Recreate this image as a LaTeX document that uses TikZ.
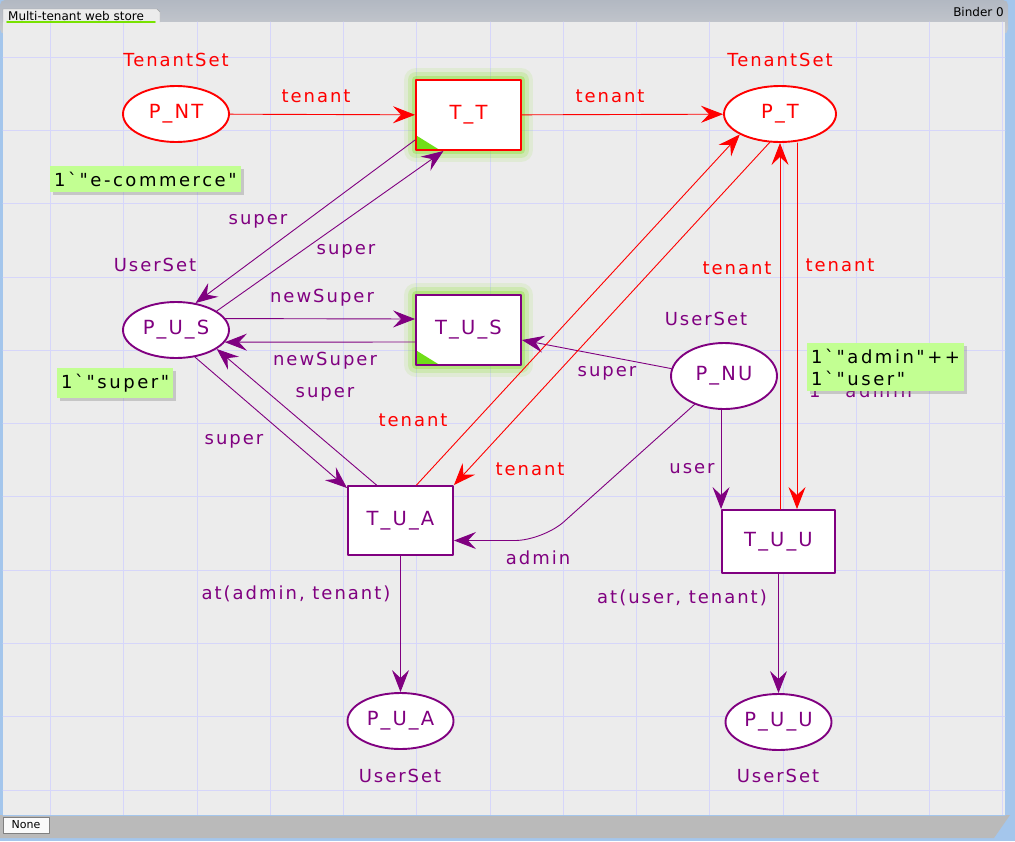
\documentclass[tikz,border=0pt]{standalone}
\usepackage{fontspec}
\setmainfont{DejaVu Sans}[Ligatures=TeXOff]
\newfontfamily\cpnfont{DejaVu Sans}[Ligatures=TeXOff, LetterSpace=11]
\newfontfamily\markfont{DejaVu Sans}[Ligatures=TeXOff, LetterSpace=14]
\usetikzlibrary{arrows.meta}
\usetikzlibrary{positioning}
\usetikzlibrary{shadows}
\usetikzlibrary{shapes.geometric}

\definecolor{cpnred}{RGB}{255,0,0}
\definecolor{cpnpurple}{RGB}{128,0,128}
\definecolor{markfill}{RGB}{194,255,146}
\definecolor{glowgreen}{RGB}{125,225,20}
\definecolor{cornergreen}{RGB}{112,222,24}
\definecolor{canvasgray}{RGB}{236,236,236}
\definecolor{gridblue}{RGB}{214,214,250}
\definecolor{barbottom}{RGB}{200,203,208}
\definecolor{bartop}{RGB}{178,184,194}
\definecolor{framebar}{RGB}{186,186,186}
\definecolor{frameblue}{RGB}{164,198,236}

\newcommand\cpnsize{\fontsize{18}{22}\selectfont}
\newcommand\nodesize{\fontsize{19.5}{22}\selectfont}

\tikzset{
  gridline/.style={draw=gridblue, line width=0.8pt},
  place/.style={ellipse, line width=1.9pt, fill=white, minimum width=106pt, minimum height=56pt, inner sep=0pt, font=\cpnfont\nodesize},
  redplace/.style={place, draw=cpnred, text=cpnred},
  userplace/.style={place, draw=cpnpurple, text=cpnpurple},
  trans/.style={rectangle, line width=1.9pt, fill=white, minimum width=105pt, minimum height=70pt, inner sep=0pt, font=\cpnfont\nodesize},
  glow/.style={preaction={draw=glowgreen, line width=24pt, draw opacity=.1},
    preaction={draw=glowgreen, line width=16pt, draw opacity=.18},
    preaction={draw=glowgreen, line width=8pt, draw opacity=.32}},
  redarc/.style={->, draw=cpnred, line width=0.9pt},
  userarc/.style={->, draw=cpnpurple, line width=0.9pt},
  redlbl/.style={text=cpnred, font=\cpnfont\cpnsize, inner sep=0pt},
  userlbl/.style={text=cpnpurple, font=\cpnfont\cpnsize, inner sep=0pt},
  marking/.style={fill=markfill, font=\markfont\cpnsize, text=black, align=left, anchor=west,
    inner xsep=4pt, inner ysep=5.5pt, drop shadow={shadow xshift=3pt, shadow yshift=-3pt, opacity=.35}}
}

\begin{document}
\begin{tikzpicture}[x=1pt,y=-1pt,line cap=round,line join=round,>={Stealth[length=22pt,width=17pt,inset=8pt]}]
\useasboundingbox (0,0) rectangle (1015,841);
\fill[frameblue] (0,0) rectangle (1015,841);
\shade[top color=bartop, bottom color=barbottom, rounded corners=5pt] (0,0) rectangle (1008,34);
\fill[canvasgray] (3,22) rectangle (1005,815);
\foreach \gx in {0,...,13}
  \draw[gridline] ({50.5+73.25*\gx},22) -- ({50.5+73.25*\gx},815);
\foreach \gy in {0,...,10}
  \draw[gridline] (3,{57+73.3*\gy}) -- (1005,{57+73.3*\gy});
\draw[fill=canvasgray, draw=gray!70] (3,22) -- (3,9) -- (157,9) -- (160,12) -- (160,22);
\node[font=\fontsize{12}{14}\selectfont, anchor=west, inner sep=0pt] (tabname) at (8,16) {Multi-tenant web store};
\draw[draw={rgb,255:red,120;green,226;blue,0}, line width=1.6pt] (7,22) -- (155,22);
\node[font=\fontsize{12}{14}\selectfont, anchor=east, inner sep=0pt] (binder) at (1004,12) {Binder 0};
\fill[framebar] (0,815) -- (1010,815) -- (994,838) -- (0,838) -- cycle;
\draw[frameblue, line width=1pt] (3,815) -- (1005,815);
\draw[fill=white!96!gray, draw=gray] (3,817) rectangle (49,833);
\node[font=\fontsize{11}{13}\selectfont, inner sep=0pt] (nonetab) at (26,825) {None};

\node[redplace] (pnt) at (176,114) {P\_NT};
\node[trans, draw=cpnred, text=cpnred, glow] (tt) at (468.5,115) {T\_T};
\node[redplace, minimum width=112pt] (pt) at (780,114) {P\_T};
\node[userplace] (pus) at (176,330) {P\_U\_S};
\node[trans, draw=cpnpurple, text=cpnpurple, glow] (tus) at (468.5,330) {T\_U\_S};
\node[userplace, minimum height=66pt] (pnu) at (724,376) {P\_NU};
\node[trans, draw=cpnpurple, text=cpnpurple, minimum height=69pt] (tua) at (400.5,520.5) {T\_U\_A};
\node[trans, draw=cpnpurple, text=cpnpurple, minimum width=113pt, minimum height=63pt] (tuu) at (778.5,541.5) {T\_U\_U};
\node[userplace] (pua) at (400.5,721) {P\_U\_A};
\node[userplace] (puu) at (778.5,722) {P\_U\_U};
\fill[cornergreen] ([shift={(2,-2)}]tt.south west) -- ++(21,0) -- ++(-21,-13) -- cycle;
\fill[cornergreen] ([shift={(2,-2)}]tus.south west) -- ++(21,0) -- ++(-21,-13) -- cycle;
\coordinate (adminbend) at (543,540.5);

\node[redlbl] (pntset) at (176,60) {TenantSet};
\node[redlbl] (ptset) at (780,60) {TenantSet};
\node[userlbl] (pusset) at (155,265) {UserSet};
\node[userlbl] (pnuset) at (706,319) {UserSet};
\node[userlbl] (puaset) at (400,776) {UserSet};
\node[userlbl] (puuset) at (778,776) {UserSet};

\draw[redarc] (pnt) -- (tt);
\draw[redarc] (tt) -- (pt);
\draw[userarc] ([yshift=-25pt]tt.west) -- (pus.54);
\draw[userarc] (pus.25) -- ([xshift=-25pt]tt.south);
\draw[userarc] (pus.13) -- ([yshift=11pt]tus.west);
\draw[userarc] ([yshift=-12pt]tus.west) -- (pus.-14);
\draw[userarc] (pnu.172) -- ([yshift=-10pt]tus.east);
\draw[userarc] (pus.-55) -- ([yshift=-3pt]tua.north west);
\draw[userarc] ([xshift=-24pt]tua.north) -- (pus.-25);
\draw[redarc] ([xshift=16pt]tua.north) -- (pt.207);
\draw[redarc] (pt.250) -- (tua.north east);
\draw[userarc, rounded corners=28pt] (pnu.224) -- (adminbend) -- ([yshift=-20pt]tua.east);
\draw[userarc] (pnu.south -| tuu.north west) -- (tuu.north west);
\draw[redarc] (tuu.north -| pt.south) -- (pt.south);
\draw[redarc] ([xshift=17pt]pt.south) -- ([xshift=17pt]pt.south |- tuu.north);
\draw[userarc] (tua) -- (pua);
\draw[userarc] (tuu) -- (puu);

\node[redlbl] (l1) at (316,96) {tenant};
\node[redlbl] (l2) at (610,96) {tenant};
\node[userlbl] (l3) at (258,221) {super};
\node[userlbl] (l4) at (346,251) {super};
\node[userlbl] (l5) at (322,298) {newSuper};
\node[userlbl] (l6) at (325,361) {newSuper};
\node[userlbl] (l7) at (607,373) {super};
\node[userlbl] (l8) at (325,394) {super};
\node[userlbl] (l9) at (234,441) {super};
\node[redlbl] (l10) at (413,420) {tenant};
\node[redlbl] (l11) at (530,469) {tenant};
\node[userlbl] (l12) at (538,558) {admin};
\node[userlbl] (l13) at (692,469) {user};
\node[redlbl] (l14) at (737,268) {tenant};
\node[redlbl] (l15) at (840,265) {tenant};
\node[userlbl] (l16) at (296,594) {at(admin, tenant)};
\node[userlbl] (l17) at (682,598) {at(user, tenant)};

\node[marking] (mpnt) at (50,179) {1`"e-commerce"};
\node[marking] (mpus) at (57,383) {1`"super"};
\node[userlbl, font=\markfont\cpnsize, anchor=west] (mold) at (809,390) {1`"admin"};
\node[marking] (mpnu) at (807,367) {1`"admin"++\\1`"user"};
\end{tikzpicture}
\end{document}
